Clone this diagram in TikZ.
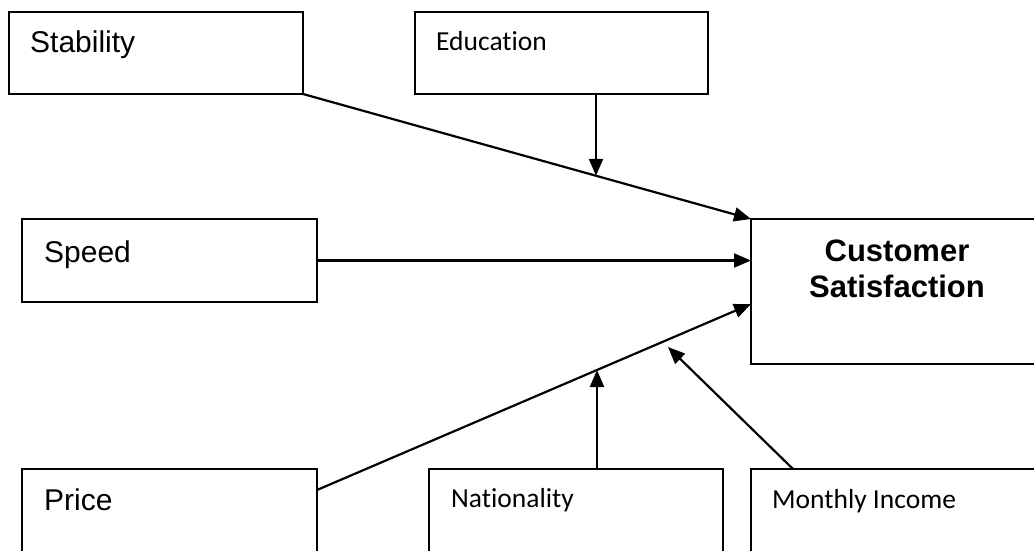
\documentclass[tikz,border=0pt]{standalone}
\usepackage{fontspec}
\setmainfont{Liberation Sans}
\newfontfamily\calfont[Ligatures={NoCommon,NoContextual}]{Carlito}
\usetikzlibrary{arrows.meta}

\begin{document}
\begin{tikzpicture}[x=1pt,y=-1pt,
    box/.style={draw,line width=2.2pt,rectangle,outer sep=0pt,inner sep=0pt,anchor=north west},
    bigtxt/.style={anchor=base west,inner sep=0pt,font=\fontsize{30}{36}\selectfont},
    smalltxt/.style={anchor=base west,inner sep=0pt,font=\calfont\fontsize{27.5}{33}\selectfont},
    link/.style={line width=2.2pt,-{Triangle[length=17pt,width=14pt]}}]
            \useasboundingbox (0,0) rectangle (1034,550);
            \clip (0,0) rectangle (1034,550);
            % boxes
            \node [box,minimum width=294pt,minimum height=82pt] (stab) at (9,12) {};
            \node [box,minimum width=293pt,minimum height=82pt] (edu) at (415,12) {};
            \node [box,minimum width=295pt,minimum height=83pt] (speed) at (22,219) {};
            \node [box,minimum width=300pt,minimum height=145pt] (cs) at (751,219) {};
            \node [box,minimum width=295pt,minimum height=95pt] (price) at (22,469) {};
            \node [box,minimum width=294pt,minimum height=95pt] (nat) at (429,469) {};
            \node [box,minimum width=300pt,minimum height=95pt] (inc) at (751,469) {};
            % texts
            \node [bigtxt] (stabtxt) at (30,52) {Stability};
            \node [smalltxt] (edutxt) at (436,50) {Educat\kern0pt ion};
            \node [bigtxt] (speedtxt) at (44,262) {Speed};
            \node [bigtxt] (pricetxt) at (44,510) {Price};
            \node [smalltxt] (nattxt) at (451,507) {Nat\kern0pt ionality};
            \node [smalltxt] (inctxt) at (772,508) {Monthly Income};
            \node [anchor=base,inner sep=0pt,align=center,font=\bfseries\fontsize{31}{36}\selectfont] (cstxt) at (897,297) {Customer\\Satisfaction};
            % arrows
            \coordinate (p1) at (317,490);
            \coordinate (c1) at (751,304);
            \coordinate (e1) at (596,94);
            \coordinate (n1) at (597,469);
            \coordinate (i1) at (793,469);
            \coordinate (i2) at (668,347);
            \path (stab.south east) -- (cs.north west) coordinate [pos=0.654] (m1);
            \path (p1) -- (c1) coordinate [pos=0.645] (m2);
            \draw [link] (stab.south east) -- (cs.north west);
            \draw [link] (speed.east) -- (speed.east -| cs.west);
            \draw [link] (p1) -- (c1);
            \draw [link] (e1) -- (e1 |- m1);
            \draw [link] (n1) -- (n1 |- m2);
            \draw [link] (i1) -- (i2);
        \end{tikzpicture}
\end{document}
